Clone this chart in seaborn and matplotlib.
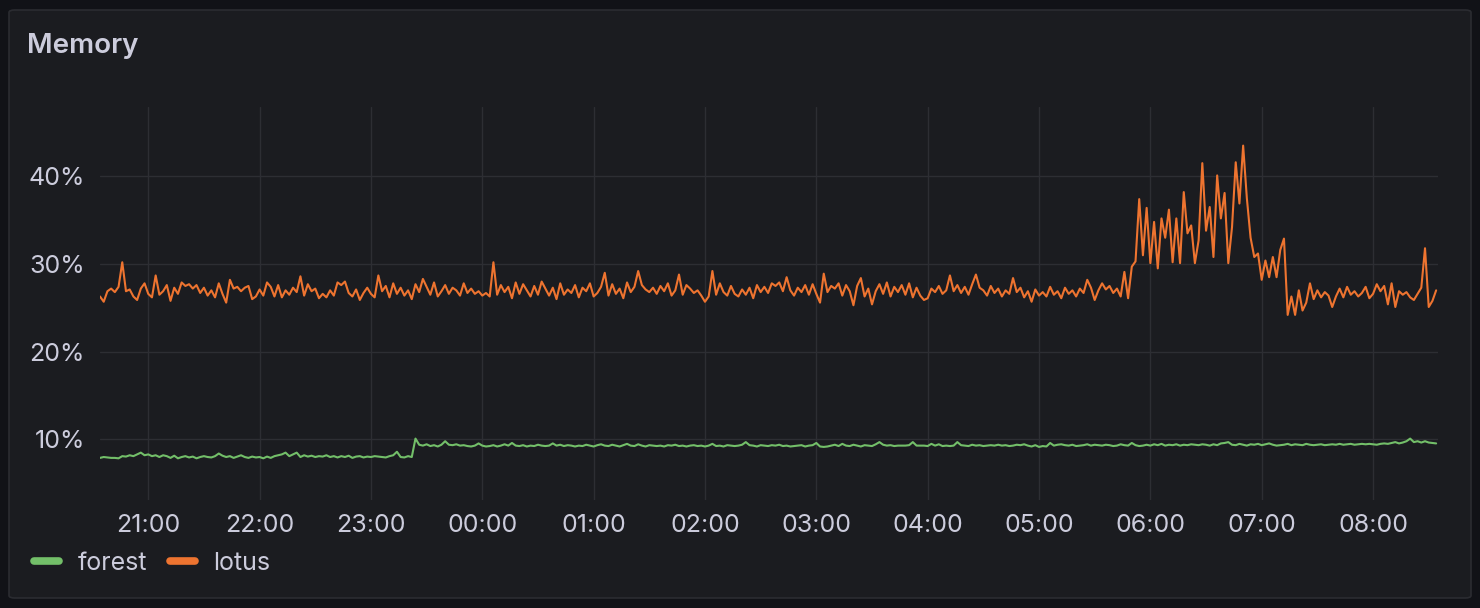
import pandas as pd
import matplotlib
matplotlib.use("Agg")
import matplotlib.pyplot as plt
import matplotlib.dates as mdates
from matplotlib.lines import Line2D
from matplotlib.patches import FancyBboxPatch
from matplotlib.ticker import FuncFormatter
import seaborn as sns

# -------------------------------------
# DATA (2 minute samples, 20:34 -> 08:34)
# -------------------------------------
START = "2024-03-11 20:34"
STEP = "2min"

lotus = [
    26.3, 25.7, 26.9, 27.2, 26.8, 27.4, 30.2, 26.9, 27.1, 26.3, 25.9, 27.2, 27.8, 26.6, 26.2,
    28.7, 26.5, 26.9, 27.6, 25.8, 27.3, 26.6, 27.9, 27.5, 27.7, 27.2, 27.6, 26.7, 27.3, 26.4,
    27.0, 26.2, 27.8, 26.6, 25.6, 28.2, 27.2, 27.4, 26.9, 27.3, 27.5, 26.0, 26.3, 27.1, 26.4,
    27.9, 27.4, 26.3, 27.6, 26.2, 27.0, 26.5, 27.3, 26.8, 28.6, 26.4, 27.7, 26.9, 27.2, 26.1,
    26.6, 26.2, 27.0, 26.4, 27.9, 27.6, 28.0, 26.7, 26.3, 27.1, 25.9, 26.7, 27.3, 26.6, 26.2,
    28.7, 26.9, 27.5, 26.2, 27.8, 26.6, 27.3, 26.4, 27.0, 26.0, 27.7, 26.8, 28.3, 27.4, 26.5,
    27.9, 26.3, 26.9, 27.6, 26.6, 27.3, 27.0, 26.4, 27.8, 26.7, 27.2, 26.6, 26.9, 26.4, 26.7,
    26.3, 30.2, 26.5, 27.6, 26.8, 27.4, 26.1, 27.9, 26.6, 27.7, 27.0, 26.3, 27.5, 26.5, 28.0,
    27.2, 26.4, 27.3, 26.0, 27.8, 26.5, 27.1, 26.7, 27.6, 26.2, 27.3, 26.9, 27.8, 26.3, 26.7,
    27.4, 29.0, 26.4, 27.7, 26.6, 27.2, 26.1, 27.9, 26.8, 27.4, 29.2, 27.6, 27.1, 26.8, 27.3,
    26.6, 27.5, 26.9, 27.8, 26.4, 27.0, 28.8, 26.5, 27.6, 27.2, 26.7, 27.0, 26.4, 25.7, 26.3,
    29.2, 26.5, 27.8, 26.8, 26.4, 27.5, 26.6, 26.3, 27.1, 26.5, 27.3, 26.1, 27.6, 26.8, 27.4,
    26.7, 27.8, 27.5, 27.9, 26.9, 28.5, 27.0, 26.4, 27.3, 26.8, 27.6, 26.5, 27.7, 26.6, 25.6,
    28.9, 26.8, 27.5, 27.2, 27.8, 26.4, 27.6, 26.9, 25.3, 27.5, 28.4, 26.3, 27.2, 25.4, 26.9,
    27.7, 26.6, 27.9, 26.3, 27.4, 26.8, 27.6, 26.5, 27.8, 26.2, 27.3, 26.4, 25.9, 26.1, 27.2,
    26.8, 27.5, 26.6, 27.0, 28.7, 26.9, 27.6, 26.7, 27.4, 26.5, 27.7, 28.8, 27.3, 27.0, 26.4,
    27.5, 26.7, 27.2, 26.3, 27.0, 26.6, 28.4, 26.8, 27.3, 26.2, 26.9, 25.7, 27.1, 26.4, 26.8,
    26.3, 27.4, 26.5, 26.9, 26.1, 27.3, 26.6, 27.0, 26.3, 27.2, 26.7, 28.2, 27.3, 25.9, 27.0,
    27.8, 27.1, 27.5, 26.7, 27.2, 26.3, 29.1, 26.1, 29.7, 30.3, 37.4, 31.0, 36.4, 30.1, 34.8,
    29.5, 35.2, 33.0, 36.2, 30.2, 35.2, 30.1, 38.2, 33.5, 34.4, 30.1, 32.7, 41.5, 33.8, 36.5,
    30.8, 40.1, 35.2, 38.1, 30.1, 34.2, 41.6, 36.9, 43.5, 37.5, 33.0, 30.8, 31.2, 28.2, 30.4,
    28.5, 30.8, 28.5, 31.6, 32.9, 24.2, 26.3, 24.2, 27.0, 24.7, 25.6, 27.8, 26.0, 27.0, 26.2,
    26.8, 26.4, 25.1, 26.3, 27.2, 26.2, 27.4, 26.5, 26.9, 26.3, 26.7, 27.4, 26.1, 26.6, 27.7,
    26.9, 27.5, 25.4, 27.8, 25.1, 26.9, 26.5, 26.8, 26.2, 25.9, 26.6, 27.3, 31.8, 25.1, 25.8,
    27.0,
]

forest = [
    7.9, 8.0, 7.95, 7.9, 7.9, 7.85, 8.1, 8.05, 8.2, 8.1, 8.3, 8.5, 8.2, 8.3, 8.1,
    8.2, 8.0, 8.2, 8.1, 7.9, 8.15, 7.85, 8.0, 8.1, 7.95, 8.05, 7.85, 8.0, 8.1, 8.0,
    7.95, 8.1, 8.4, 8.15, 8.0, 8.1, 7.9, 8.05, 8.2, 8.0, 7.9, 8.05, 7.95, 8.0, 7.85,
    8.05, 7.9, 8.1, 8.2, 8.3, 8.5, 8.1, 8.3, 8.5, 8.0, 8.2, 8.05, 8.15, 8.0, 8.1,
    8.05, 8.2, 8.0, 8.1, 7.95, 8.1, 8.0, 8.15, 7.9, 8.05, 8.1, 7.95, 8.05, 8.0, 8.1,
    8.05, 8.0, 7.95, 8.1, 8.2, 8.6, 8.0, 7.95, 8.1, 8.0, 10.1, 9.4, 9.3, 9.45, 9.25,
    9.35, 9.2, 9.4, 9.8, 9.4, 9.35, 9.45, 9.3, 9.35, 9.25, 9.2, 9.3, 9.55, 9.3, 9.2,
    9.25, 9.35, 9.2, 9.3, 9.45, 9.3, 9.6, 9.3, 9.25, 9.35, 9.2, 9.3, 9.25, 9.4, 9.3,
    9.25, 9.3, 9.55, 9.3, 9.4, 9.25, 9.35, 9.3, 9.2, 9.3, 9.25, 9.4, 9.3, 9.2, 9.35,
    9.45, 9.3, 9.25, 9.4, 9.3, 9.2, 9.35, 9.5, 9.3, 9.25, 9.45, 9.3, 9.2, 9.35, 9.3,
    9.25, 9.3, 9.2, 9.35, 9.3, 9.4, 9.25, 9.3, 9.2, 9.3, 9.35, 9.25, 9.3, 9.2, 9.3,
    9.5, 9.25, 9.3, 9.2, 9.35, 9.3, 9.25, 9.3, 9.4, 9.7, 9.35, 9.3, 9.2, 9.35, 9.3,
    9.25, 9.35, 9.3, 9.4, 9.25, 9.3, 9.2, 9.25, 9.3, 9.35, 9.2, 9.3, 9.35, 9.6, 9.2,
    9.15, 9.2, 9.3, 9.4, 9.25, 9.5, 9.3, 9.25, 9.4, 9.3, 9.2, 9.35, 9.3, 9.25, 9.45,
    9.7, 9.4, 9.3, 9.35, 9.25, 9.3, 9.3, 9.3, 9.35, 9.7, 9.3, 9.3, 9.3, 9.25, 9.5,
    9.3, 9.45, 9.25, 9.3, 9.25, 9.3, 9.7, 9.35, 9.3, 9.25, 9.4, 9.3, 9.35, 9.25, 9.3,
    9.35, 9.3, 9.4, 9.3, 9.35, 9.25, 9.3, 9.4, 9.35, 9.45, 9.3, 9.2, 9.35, 9.15, 9.25,
    9.2, 9.6, 9.3, 9.4, 9.45, 9.35, 9.3, 9.4, 9.25, 9.3, 9.35, 9.45, 9.3, 9.4, 9.35,
    9.3, 9.4, 9.35, 9.25, 9.3, 9.45, 9.35, 9.3, 9.6, 9.35, 9.25, 9.3, 9.4, 9.3, 9.45,
    9.35, 9.5, 9.3, 9.4, 9.35, 9.45, 9.3, 9.4, 9.35, 9.45, 9.4, 9.35, 9.45, 9.4, 9.3,
    9.45, 9.35, 9.55, 9.6, 9.7, 9.4, 9.35, 9.5, 9.4, 9.3, 9.45, 9.4, 9.5, 9.35, 9.45,
    9.55, 9.4, 9.3, 9.35, 9.4, 9.5, 9.35, 9.45, 9.4, 9.35, 9.5, 9.4, 9.35, 9.4, 9.45,
    9.35, 9.4, 9.45, 9.4, 9.5, 9.4, 9.45, 9.5, 9.4, 9.45, 9.5, 9.45, 9.5, 9.45, 9.4,
    9.5, 9.55, 9.5, 9.6, 9.7, 9.55, 9.65, 9.8, 10.1, 9.7, 9.8, 9.65, 9.8, 9.65, 9.6,
    9.55,
]

series_names = ["forest", "lotus"]
series_colors = ["#73BF69", "#EE7430"]
y_ticks = [10, 20, 30, 40]

# -------------------------------------
# STYLE
# -------------------------------------
CANVAS = "#111217"
PANEL = "#1b1c20"
TEXT = "#ccccdc"
GRID = "#2d2e33"

sns.set_theme(style="dark")
plt.rcParams["font.family"] = ["Inter", "DejaVu Sans"]

times = pd.date_range(START, periods=len(lotus), freq=STEP)
df = pd.concat([
    pd.DataFrame({"time": times, "value": forest, "host": "forest"}),
    pd.DataFrame({"time": times, "value": lotus, "host": "lotus"}),
])

W, H = 1480, 608
fig = plt.figure(figsize=(W / 100, H / 100), dpi=100)
fig.patch.set_facecolor(CANVAS)

# panel card, kept behind the axes
card = FancyBboxPatch((9 / W, 10 / H), 1462 / W, 588 / H,
                      boxstyle="round,pad=0,rounding_size=0.004",
                      transform=fig.transFigure, facecolor=PANEL,
                      edgecolor="#2b2c31", linewidth=1.2, zorder=-5)
fig.patches.append(card)

ax = fig.add_axes([100 / W, 108 / H, 1338 / W, 393 / H])
ax.set_zorder(2)
ax.set_facecolor(PANEL)

palette = dict(zip(series_names, series_colors))
sns.lineplot(data=df, x="time", y="value", hue="host", palette=palette,
             linewidth=1.5, legend=False, ax=ax)

ax.set_xlim(times[0], times[-1] + pd.Timedelta("1min"))
ax.set_ylim(3.1, 47.9)
ax.set_yticks(y_ticks)
ax.yaxis.set_major_formatter(FuncFormatter(lambda v, p: f"{v:.0f}%"))
ax.xaxis.set_major_locator(mdates.HourLocator())
ax.xaxis.set_major_formatter(mdates.DateFormatter("%H:%M"))

ax.grid(True, color=GRID, linewidth=1.0)
ax.set_axisbelow(True)
for s in ax.spines.values():
    s.set_visible(False)
ax.tick_params(axis="both", length=0, colors=TEXT, labelsize=18)
ax.tick_params(axis="y", pad=11)
ax.tick_params(axis="x", pad=10)
ax.set_xlabel("")
ax.set_ylabel("")

fig.text(27 / W, 1 - 53 / H, "Memory", color=TEXT, fontsize=20,
         fontweight="semibold", va="baseline", ha="left")

handles = [Line2D([0], [0], color=c, linewidth=5.5, solid_capstyle="round")
           for c in series_colors]
fig.legend(handles, series_names, loc="center left",
           bbox_to_anchor=(34 / W, 1 - 563 / H), ncol=2, frameon=False,
           fontsize=18, labelcolor=TEXT, handlelength=1.0, handletextpad=0.75,
           columnspacing=0.9, borderpad=0, borderaxespad=0)

fig.savefig("out.png", dpi=100, facecolor=CANVAS)
